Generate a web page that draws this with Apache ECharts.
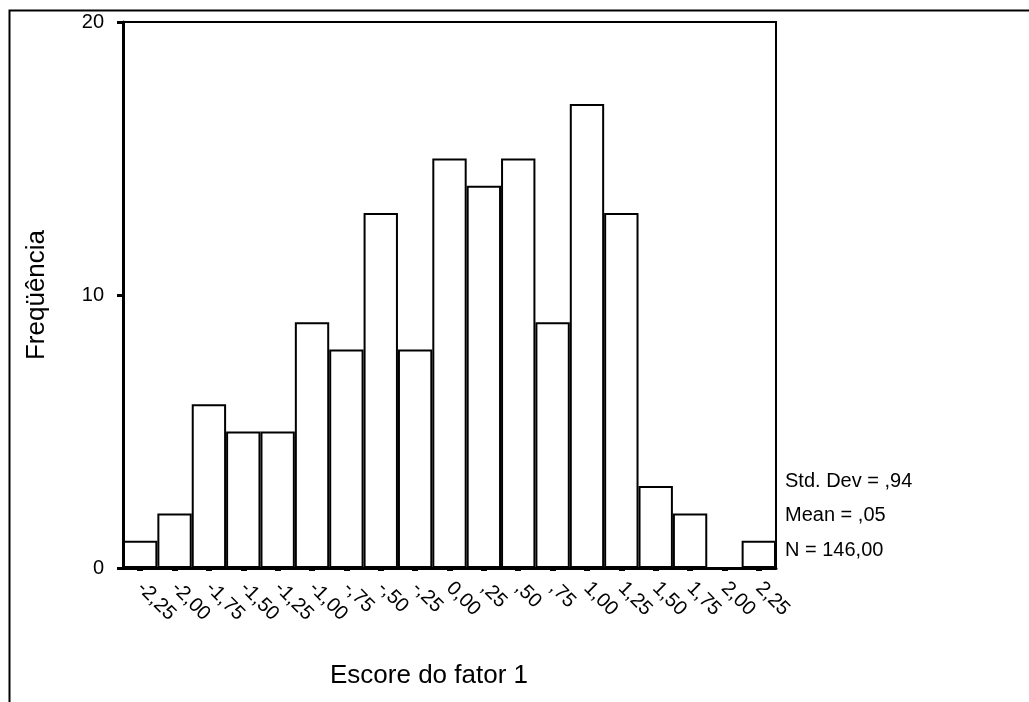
<!DOCTYPE html>
<html>
<head>
<meta charset="utf-8">
<script src="https://cdn.jsdelivr.net/npm/echarts@6/dist/echarts.min.js"></script>
<style>
html,body{margin:0;padding:0;background:#fff;}
#chart{width:1029px;height:702px;}
</style>
</head>
<body>
<div id="chart"></div>
<script>
// Bin labels (midpoints) and frequencies
const binLabels = ['-2,25','-2,00','-1,75','-1,50','-1,25','-1,00','-,75','-,50','-,25','0,00',',25',',50',',75','1,00','1,25','1,50','1,75','2,00','2,25'];
const frequencies = [1,2,6,5,5,9,8,13,8,15,14,15,9,17,13,3,2,0,1];
const yTicks = [0,10,20];
const statsLines = ['Std. Dev = ,94','Mean = ,05','N = 146,00'];
const xTitle = 'Escore do fator 1';
const yTitle = 'Freqüência';

const FONT = 'Liberation Sans';
const chart = echarts.init(document.getElementById('chart'), null, {renderer:'canvas'});

chart.setOption({
  backgroundColor: '#fff',
  animation: false,
  grid: {left:123, top:22, right:253, bottom:134, show:true, borderColor:'#000', borderWidth:2, backgroundColor:'transparent'},
  xAxis: {
    type:'category',
    data: binLabels,
    boundaryGap: true,
    axisLine:{show:true, lineStyle:{color:'#000', width:3}},
    axisTick:{show:true, alignWithLabel:true, length:3, lineStyle:{color:'#000', width:6}},
    axisLabel:{rotate:-45, margin:17, fontFamily:FONT, fontSize:20, color:'#000', interval:0},
    splitLine:{show:false}
  },
  yAxis: {
    type:'value',
    min: yTicks[0], max: yTicks[yTicks.length-1], interval: 10,
    name: yTitle,
    nameLocation:'middle',
    nameGap: 73,
    nameRotate: 90,
    nameTextStyle:{fontFamily:FONT, fontSize:26, color:'#000'},
    axisLine:{show:true, lineStyle:{color:'#000', width:3}},
    axisTick:{show:true, length:6, lineStyle:{color:'#000', width:3}},
    axisLabel:{margin:19, fontFamily:FONT, fontSize:20, color:'#000'},
    splitLine:{show:false}
  },
  series: [{
    type:'bar',
    data: frequencies,
    barWidth:'100%',
    barCategoryGap:0,
    itemStyle:{color:'#fff', borderColor:'#000', borderWidth:2},
    z:1
  }],
  graphic: [
    {type:'rect', left:7, top:8, shape:{x:0,y:0,width:1100,height:800}, style:{fill:'none', stroke:'#000', lineWidth:2}, silent:true},
    {type:'text', left:330, top:663, style:{text:xTitle, font:'26px "Liberation Sans"', fill:'#000'}},
    {type:'text', left:785, top:471, style:{text:statsLines[0], font:'20px "Liberation Sans"', fill:'#000'}},
    {type:'text', left:785, top:505, style:{text:statsLines[1], font:'20px "Liberation Sans"', fill:'#000'}},
    {type:'text', left:785, top:540, style:{text:statsLines[2], font:'20px "Liberation Sans"', fill:'#000'}}
  ]
});
</script>
</body>
</html>
